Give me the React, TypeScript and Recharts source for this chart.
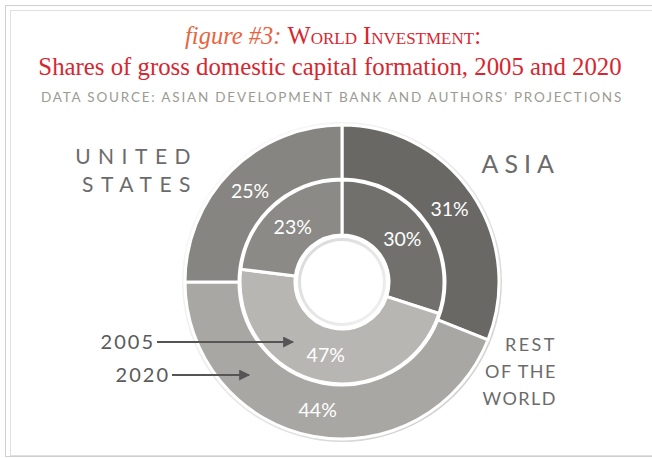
import React from "react";
import { PieChart, Pie, Cell } from "recharts";

// shares of gross domestic capital formation (%)
const regions = ["Asia", "Rest of the World", "United States"];
const share2005 = [30, 47, 23];
const share2020 = [31, 44, 25];

const innerColors = ["#72706d", "#b8b6b3", "#8b8a86"];
const outerColors = ["#6a6865", "#a9a7a4", "#868581"];

const data2005 = regions.map((name, i) => ({ name, value: share2005[i] }));
const data2020 = regions.map((name, i) => ({ name, value: share2020[i] }));

const RAD = Math.PI / 180;
const CX = 337;
const CY = 277;

const labelSans = "Lato, 'Open Sans', sans-serif";

const pctLabel = (props: any) => {
  const { cx, cy, midAngle, innerRadius, outerRadius, value } = props;
  const r = (innerRadius + outerRadius) / 2;
  const x = cx + r * Math.cos(-midAngle * RAD);
  const y = cy + r * Math.sin(-midAngle * RAD);
  return (
    <text
      x={x}
      y={y}
      fill="#fff"
      fontSize={19.5}
      fontFamily={labelSans}
      textAnchor="middle"
      dominantBaseline="central"
    >
      {value}%
    </text>
  );
};

const App: React.FC = () => {
  return (
    <div
      style={{
        position: "fixed",
        left: 0,
        top: 0,
        width: 652,
        height: 458,
        background: "#fff",
        overflow: "hidden",
      }}
    >
      {/* frame + gradients */}
      <svg width={652} height={458} style={{ position: "absolute", left: 0, top: 0 }}>
        <defs>
          <linearGradient id="rim" x1="0" y1="0" x2="1" y2="1">
            <stop offset="0%" stopColor="#ffffff" />
            <stop offset="55%" stopColor="#e6e6e6" />
            <stop offset="100%" stopColor="#c9c9c9" />
          </linearGradient>
          <linearGradient id="hole" x1="0" y1="0" x2="1" y2="1">
            <stop offset="0%" stopColor="#d8d8d8" />
            <stop offset="100%" stopColor="#f2f2f2" />
          </linearGradient>
        </defs>
        <rect x={5.5} y={5.5} width={700} height={451} fill="none" stroke="#cfcfcf" />
        <rect x={10.5} y={10.5} width={700} height={445} fill="none" stroke="#e0e0e0" />
      </svg>

      <div style={{ position: "absolute", left: 0, top: 0 }}>
        <PieChart width={652} height={458}>
          <Pie
            data={[{ value: 1 }]}
            dataKey="value"
            cx={CX}
            cy={CY}
            innerRadius={154}
            outerRadius={160}
            startAngle={90}
            endAngle={-270}
            stroke="none"
            fill="url(#rim)"
            isAnimationActive={false}
          />
          <Pie
            data={data2020}
            dataKey="value"
            cx={CX}
            cy={CY}
            innerRadius={103}
            outerRadius={157}
            startAngle={90}
            endAngle={-270}
            stroke="#fff"
            strokeWidth={3}
            labelLine={false}
            label={pctLabel}
            isAnimationActive={false}
          >
            {data2020.map((d, i) => (
              <Cell key={d.name} fill={outerColors[i]} />
            ))}
          </Pie>
          <Pie
            data={data2005}
            dataKey="value"
            cx={CX}
            cy={CY}
            innerRadius={47}
            outerRadius={102}
            startAngle={90}
            endAngle={-270}
            stroke="#fff"
            strokeWidth={3}
            labelLine={false}
            label={pctLabel}
            isAnimationActive={false}
          >
            {data2005.map((d, i) => (
              <Cell key={d.name} fill={innerColors[i]} />
            ))}
          </Pie>
          <Pie
            data={[{ value: 1 }]}
            dataKey="value"
            cx={CX}
            cy={CY}
            innerRadius={41}
            outerRadius={44}
            startAngle={90}
            endAngle={-270}
            stroke="none"
            fill="url(#hole)"
            isAnimationActive={false}
          />
        </PieChart>
      </div>

      {/* titles, region names, legend arrows */}
      <svg
        width={652}
        height={458}
        style={{ position: "absolute", left: 0, top: 0, pointerEvents: "none" }}
      >
        <defs>
          <marker
            id="arrow"
            viewBox="0 0 10 10"
            refX={9}
            refY={5}
            markerWidth={14}
            markerHeight={11}
            markerUnits="userSpaceOnUse"
            orient="auto"
          >
            <path d="M0,0 L10,5 L0,10 z" fill="#555" />
          </marker>
        </defs>
        <text
          x={333}
          y={44}
          textAnchor="middle"
          fontFamily="'Liberation Serif', serif"
          fontSize={24.5}
        >
          <tspan fill="#e8643f" fontStyle="italic">figure #3: </tspan>
          <tspan fill="#d7262f" style={{ fontVariant: "small-caps" }}>
            World Investment:
          </tspan>
        </text>
        <text
          x={330}
          y={75}
          textAnchor="middle"
          fontFamily="'Liberation Serif', serif"
          fontSize={24.8}
          fill="#d7262f"
        >
          Shares of gross domestic capital formation, 2005 and 2020
        </text>
        <text
          x={332}
          y={102}
          textAnchor="middle"
          fontFamily={labelSans}
          fontSize={13.5}
          letterSpacing={1.8}
          fill="#9c9b93"
        >
          DATA SOURCE: ASIAN DEVELOPMENT BANK AND AUTHORS' PROJECTIONS
        </text>

        <g fontFamily={labelSans} fill="#6b6b6b">
          <text x={198} y={164} textAnchor="end" fontSize={21} letterSpacing={7.5}>
            UNITED
          </text>
          <text x={198} y={192} textAnchor="end" fontSize={21} letterSpacing={7.5}>
            STATES
          </text>
          <text x={560} y={173} textAnchor="end" fontSize={25} letterSpacing={6}>
            ASIA
          </text>
          <text x={557} y={351} textAnchor="end" fontSize={18} letterSpacing={2.5}>
            REST
          </text>
          <text x={557} y={378} textAnchor="end" fontSize={18} letterSpacing={1.5}>
            OF THE
          </text>
          <text x={557} y={405} textAnchor="end" fontSize={18} letterSpacing={1.5}>
            WORLD
          </text>
        </g>

        <g fontFamily={labelSans} fill="#5a5a5a" fontSize={20} letterSpacing={2}>
          <text x={155} y={349} textAnchor="end">
            2005
          </text>
          <text x={170} y={382} textAnchor="end">
            2020
          </text>
        </g>
        <line x1={157} y1={342} x2={293} y2={342} stroke="#555" strokeWidth={2} markerEnd="url(#arrow)" />
        <line x1={172} y1={375} x2={249} y2={375} stroke="#555" strokeWidth={2} markerEnd="url(#arrow)" />
      </svg>
    </div>
  );
};

export default App;
